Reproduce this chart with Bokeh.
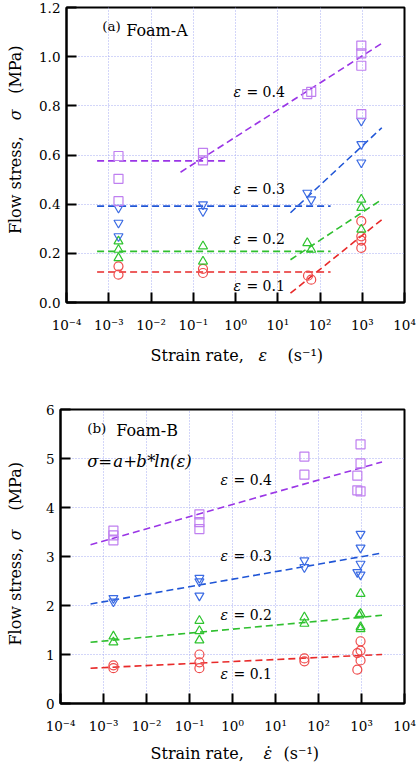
import math
from bokeh.plotting import figure
from bokeh.layouts import column, row
from bokeh.models import (FixedTicker, PrintfTickFormatter, CustomJSTickFormatter,
                          Label, Range1d)
from bokeh.embed import file_html
from bokeh.resources import INLINE

# ---------------- data ----------------
decades = [-4, -3, -2, -1, 0, 1, 2, 3, 4]
strain_levels = ["0.1", "0.2", "0.3", "0.4"]

# Foam-A : strain rate (1/s) and flow stress (MPa) per strain level
a_rate_01 = [1.7e-3, 1.7e-3, 0.17, 0.17, 52, 62, 950, 950, 950, 950]
a_sig_01 = [0.147, 0.113, 0.137, 0.120, 0.109, 0.093, 0.331, 0.269, 0.252, 0.222]
a_rate_02 = [1.7e-3, 1.7e-3, 1.7e-3, 0.17, 0.17, 50, 62, 950, 950, 950]
a_sig_02 = [0.249, 0.215, 0.181, 0.229, 0.167, 0.242, 0.215, 0.419, 0.385, 0.297]
a_rate_03 = [1.7e-3, 1.7e-3, 1.7e-3, 0.17, 0.17, 50, 62, 950, 950, 950]
a_sig_03 = [0.385, 0.324, 0.269, 0.399, 0.371, 0.446, 0.419, 0.739, 0.644, 0.569]
a_rate_04 = [1.7e-3, 1.7e-3, 1.7e-3, 0.17, 0.17, 50, 62, 950, 950, 950, 950]
a_sig_04 = [0.596, 0.503, 0.412, 0.609, 0.578, 0.848, 0.857, 1.045, 1.013, 0.963, 0.766]

# Foam-A fits: low-rate plateau and high-rate branch (order 0.1, 0.2, 0.3, 0.4)
a_flat_x0 = [5.3e-4, 5.3e-4, 5.3e-4, 5.3e-4]
a_flat_x1 = [178, 178, 178, 0.64]
a_flat_sig = [0.124, 0.208, 0.392, 0.576]
a_rise_x0 = [20, 20, 20, 0.05]
a_rise_x1 = [2900, 2900, 2900, 2900]
a_rise_sig0 = [0.038, 0.174, 0.365, 0.530]
a_rise_sig1 = [0.337, 0.419, 0.711, 1.054]

# Foam-B
b_rate_01 = [1.7e-3, 1.7e-3, 0.17, 0.17, 0.17, 47, 47, 950, 950, 800, 950, 800]
b_sig_01 = [0.78, 0.72, 1.00, 0.84, 0.72, 0.92, 0.86, 1.27, 1.08, 1.03, 0.88, 0.69]
b_rate_02 = [1.7e-3, 1.7e-3, 0.17, 0.17, 0.17, 47, 47, 950, 950, 880, 950, 950]
b_sig_02 = [1.37, 1.25, 1.69, 1.48, 1.29, 1.76, 1.63, 2.24, 1.83, 1.80, 1.56, 1.52]
b_rate_03 = [1.7e-3, 1.7e-3, 0.17, 0.17, 0.17, 47, 47, 950, 950, 950, 800, 950]
b_sig_03 = [2.15, 2.08, 2.56, 2.49, 2.20, 2.92, 2.78, 3.46, 3.18, 2.85, 2.68, 2.63]
b_rate_04 = [1.7e-3, 1.7e-3, 1.7e-3, 0.17, 0.17, 0.17, 47, 47, 950, 950, 800, 800, 950]
b_sig_04 = [3.53, 3.43, 3.33, 3.86, 3.70, 3.56, 5.04, 4.67, 5.29, 4.90, 4.65, 4.35, 4.33]

# Foam-B fits  sigma = a + b*ln(rate)
b_fit_x0 = [5e-4, 5e-4, 5e-4, 5e-4]
b_fit_x1 = [3000, 3000, 3000, 3000]
b_fit_sig0 = [0.72, 1.25, 2.03, 3.24]
b_fit_sig1 = [1.00, 1.80, 3.07, 4.93]

# ---------------- styling ----------------
FONT = "'DejaVu Serif', serif"
marker_kind = ["circle", "triangle", "inverted_triangle", "square"]
marker_color = ["#ef4b4b", "#2fc42f", "#3b6be3", "#bf7ff0"]
line_color = ["#e82a2a", "#2fbf2f", "#1f55d6", "#9a35e6"]
grid_color = "#a6acf2"

sup_js = """
const e = Math.round(Math.log10(tick));
const m = {"-": "\\u207b", "0": "\\u2070", "1": "\\u00b9", "2": "\\u00b2",
           "3": "\\u00b3", "4": "\\u2074"};
return "10" + String(e).split("").map(c => m[c]).join("");
"""


def txt(p, x, y, text, size, italic=False, angle=0.0, align="left", dx=0):
    p.add_layout(Label(x=x, y=y, text=text,
                       text_font=FONT, text_font_size=f"{size}px",
                       text_font_style="italic" if italic else "normal",
                       text_align=align, text_baseline="middle", angle=angle,
                       x_offset=dx, text_color="black"))


def panel(w, h, ymax, yticks, yfmt, left, top, bottom):
    p = figure(width=w, height=h, x_axis_type="log",
               x_range=Range1d(1e-4, 1e4), y_range=Range1d(0, ymax),
               output_backend="svg", toolbar_location=None,
               min_border_left=left, min_border_right=16,
               min_border_top=top, min_border_bottom=bottom)
    p.background_fill_color = "white"
    p.border_fill_color = "white"
    p.outline_line_color = "black"
    p.outline_line_width = 2
    p.outline_line_alpha = 1

    p.xaxis.ticker = FixedTicker(ticks=[10.0 ** d for d in decades], minor_ticks=[])
    p.xaxis.formatter = CustomJSTickFormatter(code=sup_js)
    p.yaxis.ticker = FixedTicker(ticks=yticks, minor_ticks=[])
    p.yaxis.formatter = PrintfTickFormatter(format=yfmt)
    for ax in (p.xaxis, p.yaxis):
        ax.major_tick_in = 10
        ax.major_tick_out = 0
        ax.minor_tick_in = 0
        ax.minor_tick_out = 0
        ax.major_tick_line_width = 2
        ax.major_tick_line_color = "black"
        ax.axis_line_width = 2
        ax.axis_line_color = "black"
        ax.major_label_text_font = FONT
        ax.major_label_text_font_size = "13.5px"
        ax.major_label_text_color = "black"
    p.xaxis.major_label_standoff = 14
    p.yaxis.major_label_standoff = 6

    for g in (p.xgrid, p.ygrid):
        g.grid_line_color = grid_color
        g.grid_line_dash = "1 2"
        g.grid_line_width = 1
    return p


def strip(w, h):
    # plain canvas in pixel coordinates (y grows downward) for axis titles
    s = figure(width=w, height=h, x_range=Range1d(0, w), y_range=Range1d(h, 0),
               output_backend="svg", toolbar_location=None,
               x_axis_location=None, y_axis_location=None,
               min_border_left=0, min_border_right=0,
               min_border_top=0, min_border_bottom=0)
    s.grid.visible = False
    s.outline_line_color = None
    s.background_fill_color = "white"
    s.border_fill_color = "white"
    return s


def x_title(s, y, x_left, eps_x, paren_x, dot):
    txt(s, x_left, y, "Strain rate,", 16)
    txt(s, eps_x, y, "\u03b5\u0307" if dot else "\u03b5", 16, italic=True)
    txt(s, paren_x, y, "(s\u207b\u00b9)", 16)


def y_title(s, x, y_flow, y_sigma, y_unit):
    # rotated pieces, each starting at its lower end and reading upward
    a90 = math.pi / 2
    txt(s, x, y_flow, "Flow stress,", 16, angle=a90)
    txt(s, x, y_sigma, "\u03c3", 16, italic=True, angle=a90)
    txt(s, x, y_unit, "(MPa)", 16, angle=a90)


def scatter_sets(p, rates, sigs):
    for i, (r, s) in enumerate(zip(rates, sigs)):
        p.scatter(r, s, marker=marker_kind[i], size=9, fill_color=None,
                  line_color=marker_color[i], line_width=1.2)


def eps_label(p, x, y, level):
    txt(p, x, y, "\u03b5", 14, italic=True)
    txt(p, x, y, "= " + level, 14, dx=13)


# ---------------- (a) Foam-A ----------------
pa = panel(390, 345, 1.2, [0, 0.2, 0.4, 0.6, 0.8, 1.0, 1.2], "%.1f", 36, 7, 43)
pa.segment(a_flat_x0, a_flat_sig, a_flat_x1, a_flat_sig, line_color=line_color,
           line_width=1.6, line_dash="7 4")
pa.segment(a_rise_x0, a_rise_sig0, a_rise_x1, a_rise_sig1, line_color=line_color,
           line_width=1.6, line_dash="7 4")
scatter_sets(pa, [a_rate_01, a_rate_02, a_rate_03, a_rate_04],
             [a_sig_01, a_sig_02, a_sig_03, a_sig_04])
txt(pa, 10 ** -3.155, 1.125, "(a)", 13.5)
txt(pa, 10 ** -3.155, 1.105, "Foam-A", 16, dx=24)
for lvl, yv in zip(strain_levels, [0.068, 0.26, 0.46, 0.855]):
    eps_label(pa, 10 ** -0.05, yv, lvl)

ya = strip(30, 345)
y_title(ya, 15, 265, 132, 101)
xa = strip(420, 38)
x_title(xa, 10, 150, 258, 287, dot=False)

# ---------------- (b) Foam-B ----------------
pb = panel(390, 355, 6, [0, 1, 2, 3, 4, 5, 6], "%d", 30, 26, 35)
pb.segment(b_fit_x0, b_fit_sig0, b_fit_x1, b_fit_sig1, line_color=line_color,
           line_width=1.6, line_dash="7 4")
scatter_sets(pb, [b_rate_01, b_rate_02, b_rate_03, b_rate_04],
             [b_sig_01, b_sig_02, b_sig_03, b_sig_04])
bx = 10 ** -3.38
txt(pb, bx, 5.62, "(b)", 13.5)
txt(pb, bx, 5.57, "Foam-B", 16, dx=29)
txt(pb, bx, 4.94, "\u03c3", 16.5, italic=True)
txt(pb, bx, 4.94, "=", 16.5, dx=11)
txt(pb, bx, 4.94, "a", 16.5, italic=True, dx=26)
txt(pb, bx, 4.94, "+", 16.5, dx=36)
txt(pb, bx, 4.94, "b", 16.5, italic=True, dx=49)
txt(pb, bx, 4.94, "*", 16.5, dx=60)
txt(pb, bx, 4.94, "ln(\u03b5)", 16.5, italic=True, dx=67)
for lvl, yv in zip(strain_levels, [0.61, 1.81, 3.02, 4.57]):
    eps_label(pb, 10 ** -0.28, yv, lvl)

yb = strip(30, 355)
y_title(yb, 15, 285, 158, 122)
xb = strip(420, 28)
x_title(xb, 15, 150, 263, 283, dot=True)

layout = column(row(ya, pa, spacing=0), xa, row(yb, pb, spacing=0), xb, spacing=0)
with open("out.html", "w", encoding="utf-8") as f:
    f.write(file_html(layout, INLINE))
